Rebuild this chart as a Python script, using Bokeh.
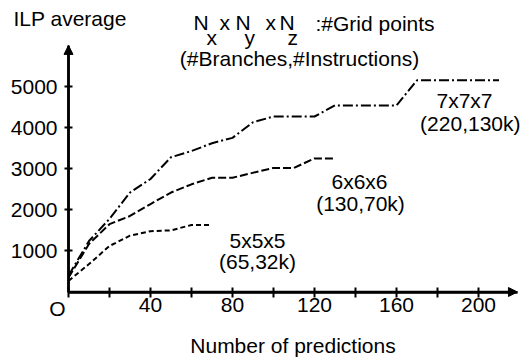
from bokeh.plotting import figure
from bokeh.models import Range1d, Label, Arrow, NormalHead, FixedTicker, LinearAxis
from bokeh.embed import file_html
from bokeh.resources import INLINE

# ---- data ----
x_777 = [0, 10, 20, 30, 40, 50, 60, 70, 80, 90, 100, 120, 130, 160, 170, 210]
y_777 = [400, 1240, 1780, 2420, 2750, 3280, 3430, 3620, 3750, 4130, 4270, 4270, 4540, 4540, 5150, 5150]
x_666 = [0, 10, 20, 30, 40, 50, 60, 70, 80, 100, 110, 120, 130]
y_666 = [350, 1170, 1650, 1850, 2140, 2420, 2620, 2780, 2780, 3020, 3020, 3250, 3250]
x_555 = [0, 10, 20, 30, 40, 50, 60, 70]
y_555 = [270, 680, 1120, 1370, 1480, 1500, 1630, 1630]

x_ticks = [0, 20, 40, 60, 80, 100, 120, 140, 160, 180, 200]
x_tick_labels = {0: "", 20: "", 40: "40", 60: "", 80: "80", 100: "", 120: "120",
                 140: "", 160: "160", 180: "", 200: "200"}
y_ticks = [1000, 2000, 3000, 4000, 5000]

X_END, Y_END = 219, 6000     # axis arrow tips (data units)

# ---- geometry (canvas pixels) ----
W, H = 523, 363
OX, OY = 68, 291.5          # canvas position of the data origin
PX_X = 2.05                 # pixels per x unit
PX_Y = 0.0411               # pixels per y unit
FONT = "Liberation Sans"
FS = "21px"

x0 = -OX / PX_X
x1 = (W - OX) / PX_X
y0 = -(H - OY) / PX_Y
y1 = OY / PX_Y

p = figure(width=W, height=H, output_backend="svg", toolbar_location=None,
           x_range=Range1d(x0, x1), y_range=Range1d(y0, y1),
           x_axis_location=None, y_axis_location=None,
           min_border=0, min_border_left=0, min_border_right=0,
           min_border_top=0, min_border_bottom=0)
p.outline_line_color = None
p.grid.visible = False
p.background_fill_color = "white"
p.border_fill_color = "white"

def dx(cx):
    return (cx - OX) / PX_X
def dy(cy):
    return (OY - cy) / PX_Y

xaxis = LinearAxis(fixed_location=0, bounds=(0, X_END), ticker=FixedTicker(ticks=x_ticks))
yaxis = LinearAxis(fixed_location=0, bounds=(0, Y_END), ticker=FixedTicker(ticks=y_ticks))
for ax in (xaxis, yaxis):
    ax.axis_line_width = 2.5
    ax.axis_line_color = "black"
    ax.major_tick_line_width = 2
    ax.major_tick_line_color = "black"
    ax.minor_tick_line_color = None
    ax.major_label_text_font = FONT
    ax.major_label_text_font_size = FS
    ax.major_label_text_color = "black"

xaxis.major_label_overrides = x_tick_labels
xaxis.major_tick_in = 5
xaxis.major_tick_out = 5
xaxis.major_label_standoff = 1
xaxis.axis_label = "Number of predictions"
xaxis.axis_label_text_font = FONT
xaxis.axis_label_text_font_size = FS
xaxis.axis_label_text_font_style = "normal"
xaxis.axis_label_text_color = "black"
xaxis.axis_label_standoff = 18

yaxis.major_tick_in = 4
yaxis.major_tick_out = 4
yaxis.major_label_standoff = 7

p.add_layout(xaxis, "below")
p.add_layout(yaxis, "left")

# arrow heads on the axes
p.add_layout(Arrow(end=NormalHead(size=9, fill_color="black", line_color="black", line_width=1),
                   x_start=0, y_start=0, x_end=X_END, y_end=0, line_width=2.5))
p.add_layout(Arrow(end=NormalHead(size=9, fill_color="black", line_color="black", line_width=1),
                   x_start=0, y_start=0, x_end=0, y_end=Y_END, line_width=2.5))

# series
p.line(x_777, y_777, line_color="black", line_width=2, line_dash="10 3 2 3")
p.line(x_666, y_666, line_color="black", line_width=2, line_dash="8 3")
p.line(x_555, y_555, line_color="black", line_width=2, line_dash="5 3")

def lab(text, cx, cy, align="left", baseline="middle"):
    p.add_layout(Label(x=dx(cx), y=dy(cy), text=text, text_font=FONT, text_font_size=FS,
                       text_color="black", text_align=align, text_baseline=baseline))

# origin tick label
lab("O", 57, 308, align="center")

# y axis title
lab("ILP average", 13, 18)

# header: N_x x N_y x N_z :#Grid points
base = 22
sub = 37
lab("N", 193, base, baseline="alphabetic")
lab("x", 206, sub, baseline="alphabetic")
lab("x", 219, base, baseline="alphabetic")
lab("N", 235, base, baseline="alphabetic")
lab("y", 244, sub, baseline="alphabetic")
lab("x", 265, base, baseline="alphabetic")
lab("N", 279, base, baseline="alphabetic")
lab("z", 287, sub, baseline="alphabetic")
lab(":#Grid points", 315, base + 1, baseline="alphabetic")
lab("(#Branches,#Instructions)", 299, 58, align="center")

# series labels
lab("7x7x7", 464, 100, align="center")
lab("(220,130k)", 520, 123, align="right")
lab("6x6x6", 359, 181, align="center")
lab("(130,70k)", 360, 203, align="center")
lab("5x5x5", 257, 240, align="center")
lab("(65,32k)", 257, 261, align="center")

open("out.html", "w").write(file_html(p, INLINE))
